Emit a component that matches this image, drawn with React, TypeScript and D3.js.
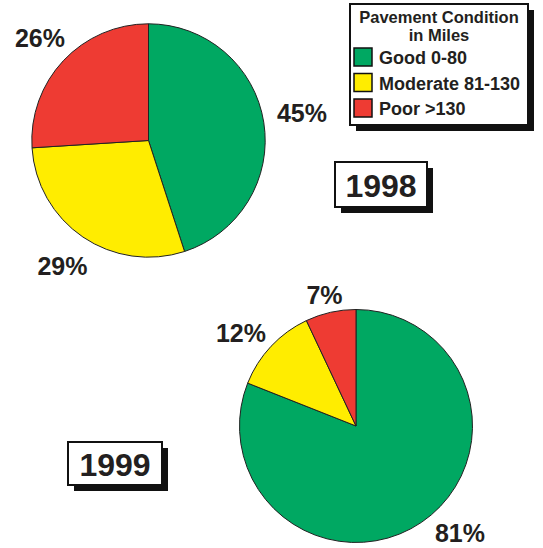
import React, { useEffect, useRef } from "react";
import * as d3 from "d3";

// Pavement condition shares (percent), in drawing order clockwise from 12 o'clock
const categories = ["Good 0-80", "Moderate 81-130", "Poor >130"];
const colors = ["#00a862", "#ffed00", "#ee3b33"];
const values1998 = [45, 29, 26];
const values1999 = [81, 12, 7];
const years = ["1998", "1999"];

const FONT = "'Liberation Sans', Arial, Helvetica, sans-serif";

export default function App() {
  const ref = useRef<SVGSVGElement>(null);

  useEffect(() => {
    const W = 543,
      H = 548;
    const svg = d3.select(ref.current).attr("width", W).attr("height", H);
    svg.selectAll("*").remove();
    svg.append("rect").attr("width", W).attr("height", H).attr("fill", "#fff");

    const pie = d3.pie<number>().sort(null).value((d) => d);

    // one pie per year, with percentage labels placed around it
    const drawPie = (
      values: number[],
      cx: number,
      cy: number,
      r: number,
      labelPos: [number, number][]
    ) => {
      const arc = d3.arc<d3.PieArcDatum<number>>().innerRadius(0).outerRadius(r);
      const g = svg.append("g").attr("transform", `translate(${cx},${cy})`);
      g.selectAll("path")
        .data(pie(values))
        .enter()
        .append("path")
        .attr("d", arc)
        .attr("fill", (d, i) => colors[i])
        .attr("stroke", "#222")
        .attr("stroke-width", 1);

      svg
        .selectAll(null)
        .data(values)
        .enter()
        .append("text")
        .attr("x", (d, i) => labelPos[i][0])
        .attr("y", (d, i) => labelPos[i][1])
        .attr("text-anchor", "middle")
        .attr("font-family", FONT)
        .attr("font-weight", "bold")
        .attr("font-size", 25)
        .attr("fill", "#231f20")
        .text((d) => d + "%");
    };

    drawPie(values1998, 148.5, 140.5, 116.7, [
      [302, 121.5],
      [62.5, 275],
      [40, 46.5],
    ]);
    drawPie(values1999, 356, 426, 116.5, [
      [460, 541.5],
      [241, 341.5],
      [324.5, 304],
    ]);

    // boxed year labels with drop shadow
    const yearBox = (label: string, x: number, y: number, w: number, h: number) => {
      svg.append("rect").attr("x", x + 6).attr("y", y + 6).attr("width", w).attr("height", h).attr("fill", "#111");
      svg
        .append("rect")
        .attr("x", x)
        .attr("y", y)
        .attr("width", w)
        .attr("height", h)
        .attr("fill", "#fff")
        .attr("stroke", "#111")
        .attr("stroke-width", 2);
      svg
        .append("text")
        .attr("x", x + w / 2)
        .attr("y", y + h / 2 + 12)
        .attr("text-anchor", "middle")
        .attr("font-family", FONT)
        .attr("font-weight", "bold")
        .attr("font-size", 32)
        .attr("fill", "#231f20")
        .text(label);
    };
    yearBox(years[0], 335, 162, 92, 45);
    yearBox(years[1], 68, 442, 94, 43);

    // legend
    const lx = 350,
      ly = 4,
      lw = 178,
      lh = 121;
    svg.append("rect").attr("x", lx + 6).attr("y", ly + 6).attr("width", lw).attr("height", lh).attr("fill", "#111");
    svg
      .append("rect")
      .attr("x", lx)
      .attr("y", ly)
      .attr("width", lw)
      .attr("height", lh)
      .attr("fill", "#fff")
      .attr("stroke", "#111")
      .attr("stroke-width", 2);
    const title = svg
      .append("text")
      .attr("text-anchor", "middle")
      .attr("font-family", FONT)
      .attr("font-weight", "bold")
      .attr("font-size", 16.5)
      .attr("fill", "#231f20");
    title.append("tspan").attr("x", lx + lw / 2).attr("y", 22.5).text("Pavement Condition");
    title.append("tspan").attr("x", lx + lw / 2).attr("y", 40.5).text("in Miles");

    const item = svg
      .selectAll("g.item")
      .data(categories)
      .enter()
      .append("g")
      .attr("class", "item")
      .attr("transform", (d, i) => `translate(${lx + 4},${48 + i * 25.5})`);
    item
      .append("rect")
      .attr("width", 18)
      .attr("height", 18)
      .attr("fill", (d, i) => colors[i])
      .attr("stroke", "#111")
      .attr("stroke-width", 1.5);
    item
      .append("text")
      .attr("x", 25)
      .attr("y", 16)
      .attr("font-family", FONT)
      .attr("font-weight", "bold")
      .attr("font-size", 18)
      .attr("fill", "#231f20")
      .text((d) => d);
  }, []);

  return <svg ref={ref} style={{ position: "absolute", left: 0, top: 0 }} />;
}
